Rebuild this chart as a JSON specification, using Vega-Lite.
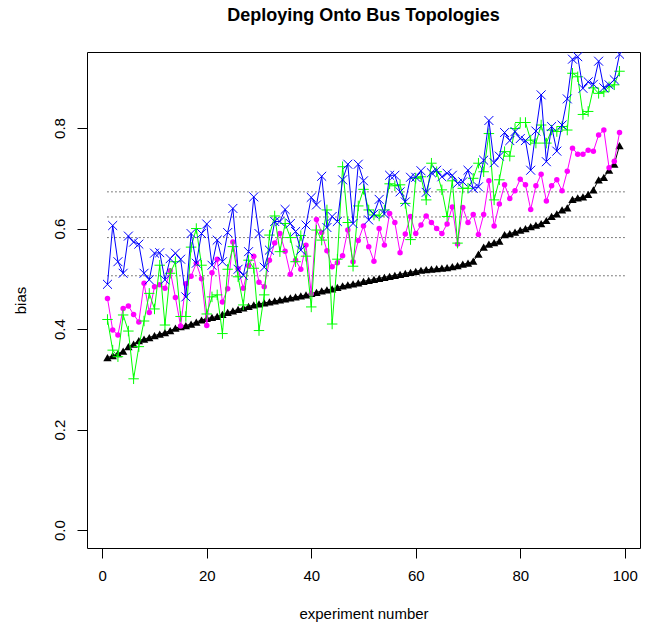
{
  "$schema": "https://vega.github.io/schema/vega-lite/v6.json",
  "autosize": {"type": "none"},
  "padding": {"left": 87, "top": 52, "right": 19, "bottom": 77},
  "width": 553,
  "height": 496,
  "background": "white",
  "title": {"text": "Deploying Onto Bus Topologies", "font": "Liberation Sans", "fontSize": 18, "fontWeight": "bold", "color": "black", "anchor": "middle", "offset": 27},
  "config": {
    "view": {"stroke": "black", "strokeWidth": 1},
    "axis": {"domain": false, "grid": false, "tickColor": "black", "tickSize": 10, "labelFont": "Liberation Sans", "labelFontSize": 15, "labelColor": "black", "titleFont": "Liberation Sans", "titleFontSize": 15, "titleFontWeight": "normal", "titleColor": "black"},
    "axisX": {"labelPadding": 10, "titlePadding": 23},
    "axisY": {"labelAngle": -90, "labelAlign": "center", "labelBaseline": "bottom", "labelPadding": 10, "titlePadding": 24}
  },
  "datasets": {
    "runs": [
      {"i":1,"k":0.343,"m":0.461,"g":0.419,"b":0.489},
      {"i":2,"k":0.347,"m":0.398,"g":0.358,"b":0.606},
      {"i":3,"k":0.351,"m":0.388,"g":0.345,"b":0.534},
      {"i":4,"k":0.356,"m":0.441,"g":0.428,"b":0.511},
      {"i":5,"k":0.365,"m":0.446,"g":0.396,"b":0.585},
      {"i":6,"k":0.370,"m":0.429,"g":0.301,"b":0.573},
      {"i":7,"k":0.377,"m":0.414,"g":0.365,"b":0.569},
      {"i":8,"k":0.380,"m":0.491,"g":0.416,"b":0.511},
      {"i":9,"k":0.383,"m":0.433,"g":0.471,"b":0.498},
      {"i":10,"k":0.387,"m":0.484,"g":0.440,"b":0.551},
      {"i":11,"k":0.390,"m":0.488,"g":0.527,"b":0.552},
      {"i":12,"k":0.393,"m":0.481,"g":0.408,"b":0.498},
      {"i":13,"k":0.397,"m":0.516,"g":0.511,"b":0.540},
      {"i":14,"k":0.402,"m":0.463,"g":0.534,"b":0.551},
      {"i":15,"k":0.405,"m":0.406,"g":0.425,"b":0.539},
      {"i":16,"k":0.407,"m":0.490,"g":0.425,"b":0.464},
      {"i":17,"k":0.410,"m":0.505,"g":0.563,"b":0.590},
      {"i":18,"k":0.414,"m":0.531,"g":0.600,"b":0.531},
      {"i":19,"k":0.418,"m":0.500,"g":0.527,"b":0.590},
      {"i":20,"k":0.421,"m":0.407,"g":0.430,"b":0.609},
      {"i":21,"k":0.423,"m":0.512,"g":0.464,"b":0.527},
      {"i":22,"k":0.425,"m":0.539,"g":0.468,"b":0.577},
      {"i":23,"k":0.429,"m":0.454,"g":0.391,"b":0.534},
      {"i":24,"k":0.433,"m":0.480,"g":0.519,"b":0.592},
      {"i":25,"k":0.436,"m":0.573,"g":0.564,"b":0.640},
      {"i":26,"k":0.439,"m":0.520,"g":0.504,"b":0.519},
      {"i":27,"k":0.442,"m":0.481,"g":0.448,"b":0.507},
      {"i":28,"k":0.445,"m":0.526,"g":0.537,"b":0.554},
      {"i":29,"k":0.448,"m":0.545,"g":0.521,"b":0.663},
      {"i":30,"k":0.450,"m":0.493,"g":0.397,"b":0.590},
      {"i":31,"k":0.452,"m":0.484,"g":0.468,"b":0.523},
      {"i":32,"k":0.454,"m":0.537,"g":0.587,"b":0.557},
      {"i":33,"k":0.456,"m":0.571,"g":0.625,"b":0.614},
      {"i":34,"k":0.458,"m":0.590,"g":0.554,"b":0.614},
      {"i":35,"k":0.460,"m":0.555,"g":0.610,"b":0.638},
      {"i":36,"k":0.462,"m":0.509,"g":0.582,"b":0.610},
      {"i":37,"k":0.464,"m":0.537,"g":0.534,"b":0.594},
      {"i":38,"k":0.466,"m":0.519,"g":0.586,"b":0.557},
      {"i":39,"k":0.468,"m":0.567,"g":0.545,"b":0.607},
      {"i":40,"k":0.471,"m":0.470,"g":0.444,"b":0.662},
      {"i":41,"k":0.473,"m":0.618,"g":0.597,"b":0.647},
      {"i":42,"k":0.476,"m":0.592,"g":0.577,"b":0.704},
      {"i":43,"k":0.478,"m":0.556,"g":0.637,"b":0.602},
      {"i":44,"k":0.480,"m":0.524,"g":0.410,"b":0.624},
      {"i":45,"k":0.483,"m":0.532,"g":0.539,"b":0.614},
      {"i":46,"k":0.486,"m":0.546,"g":0.723,"b":0.697},
      {"i":47,"k":0.488,"m":0.597,"g":0.612,"b":0.728},
      {"i":48,"k":0.490,"m":0.534,"g":0.525,"b":0.610},
      {"i":49,"k":0.492,"m":0.576,"g":0.645,"b":0.728},
      {"i":50,"k":0.495,"m":0.605,"g":0.678,"b":0.695},
      {"i":51,"k":0.497,"m":0.564,"g":0.637,"b":0.617},
      {"i":52,"k":0.499,"m":0.535,"g":0.627,"b":0.629},
      {"i":53,"k":0.501,"m":0.600,"g":0.625,"b":0.658},
      {"i":54,"k":0.503,"m":0.567,"g":0.637,"b":0.629},
      {"i":55,"k":0.505,"m":0.630,"g":0.689,"b":0.706},
      {"i":56,"k":0.507,"m":0.612,"g":0.685,"b":0.706},
      {"i":57,"k":0.509,"m":0.552,"g":0.687,"b":0.673},
      {"i":58,"k":0.511,"m":0.589,"g":0.650,"b":0.653},
      {"i":59,"k":0.513,"m":0.624,"g":0.578,"b":0.702},
      {"i":60,"k":0.515,"m":0.590,"g":0.700,"b":0.702},
      {"i":61,"k":0.517,"m":0.607,"g":0.703,"b":0.715},
      {"i":62,"k":0.518,"m":0.625,"g":0.657,"b":0.672},
      {"i":63,"k":0.519,"m":0.612,"g":0.730,"b":0.711},
      {"i":64,"k":0.520,"m":0.600,"g":0.713,"b":0.716},
      {"i":65,"k":0.521,"m":0.590,"g":0.677,"b":0.703},
      {"i":66,"k":0.522,"m":0.609,"g":0.624,"b":0.710},
      {"i":67,"k":0.524,"m":0.643,"g":0.695,"b":0.706},
      {"i":68,"k":0.526,"m":0.569,"g":0.571,"b":0.690},
      {"i":69,"k":0.529,"m":0.642,"g":0.680,"b":0.693},
      {"i":70,"k":0.531,"m":0.612,"g":0.680,"b":0.716},
      {"i":71,"k":0.535,"m":0.628,"g":0.700,"b":0.680},
      {"i":72,"k":0.549,"m":0.588,"g":0.730,"b":0.683},
      {"i":73,"k":0.563,"m":0.628,"g":0.713,"b":0.736},
      {"i":74,"k":0.569,"m":0.695,"g":0.789,"b":0.815},
      {"i":75,"k":0.572,"m":0.605,"g":0.657,"b":0.731},
      {"i":76,"k":0.575,"m":0.649,"g":0.697,"b":0.744},
      {"i":77,"k":0.588,"m":0.687,"g":0.753,"b":0.791},
      {"i":78,"k":0.590,"m":0.660,"g":0.744,"b":0.775},
      {"i":79,"k":0.593,"m":0.675,"g":0.799,"b":0.793},
      {"i":80,"k":0.597,"m":0.698,"g":0.811,"b":0.779},
      {"i":81,"k":0.600,"m":0.687,"g":0.811,"b":0.775},
      {"i":82,"k":0.604,"m":0.638,"g":0.776,"b":0.716},
      {"i":83,"k":0.607,"m":0.685,"g":0.770,"b":0.794},
      {"i":84,"k":0.610,"m":0.708,"g":0.806,"b":0.866},
      {"i":85,"k":0.616,"m":0.655,"g":0.770,"b":0.733},
      {"i":86,"k":0.624,"m":0.685,"g":0.796,"b":0.803},
      {"i":87,"k":0.629,"m":0.697,"g":0.793,"b":0.754},
      {"i":88,"k":0.637,"m":0.675,"g":0.803,"b":0.806},
      {"i":89,"k":0.641,"m":0.714,"g":0.796,"b":0.858},
      {"i":90,"k":0.658,"m":0.760,"g":0.909,"b":0.937},
      {"i":91,"k":0.661,"m":0.748,"g":0.902,"b":0.942},
      {"i":92,"k":0.663,"m":0.748,"g":0.827,"b":0.879},
      {"i":93,"k":0.668,"m":0.756,"g":0.833,"b":0.892},
      {"i":94,"k":0.677,"m":0.754,"g":0.880,"b":0.887},
      {"i":95,"k":0.697,"m":0.786,"g":0.869,"b":0.933},
      {"i":96,"k":0.702,"m":0.796,"g":0.872,"b":0.880},
      {"i":97,"k":0.716,"m":0.721,"g":0.882,"b":0.886},
      {"i":98,"k":0.728,"m":0.734,"g":0.886,"b":0.896},
      {"i":99,"k":0.765,"m":0.791,"g":0.913,"b":0.947}
    ],
    "refs": [
      {"level": 0.506, "from": 1, "to": 100},
      {"level": 0.582, "from": 1, "to": 100},
      {"level": 0.623, "from": 1, "to": 100},
      {"level": 0.673, "from": 1, "to": 100}
    ]
  },
  "data": {"name": "runs"},
  "encoding": {
    "x": {"field": "i", "type": "quantitative", "scale": {"domain": [-2.92, 102.92], "nice": false, "zero": false}, "axis": {"values": [0, 20, 40, 60, 80, 100], "title": "experiment number"}}
  },
  "layer": [
    {
      "data": {"name": "refs"},
      "mark": {"type": "rule", "color": "black", "strokeWidth": 1, "strokeDash": [1, 3]},
      "encoding": {
        "x": {"field": "from", "type": "quantitative"},
        "x2": {"field": "to"},
        "y": {"field": "level", "type": "quantitative", "scale": {"domain": [-0.0357, 0.9513], "nice": false, "zero": false}, "axis": {"values": [0, 0.2, 0.4, 0.6, 0.8], "format": ".1f", "title": "bias"}}
      }
    },
    {
      "mark": {"type": "line", "color": "black", "strokeWidth": 1, "clip": true},
      "encoding": {"y": {"field": "k", "type": "quantitative", "title": "bias"}}
    },
    {
      "mark": {"type": "point", "shape": "triangle-up", "filled": true, "color": "black", "size": 70, "opacity": 1, "clip": true},
      "encoding": {"y": {"field": "k", "type": "quantitative", "title": "bias"}}
    },
    {
      "mark": {"type": "line", "color": "#ff00ff", "strokeWidth": 1, "clip": true},
      "encoding": {"y": {"field": "m", "type": "quantitative", "title": "bias"}}
    },
    {
      "mark": {"type": "point", "shape": "circle", "filled": true, "color": "#ff00ff", "size": 30, "opacity": 1, "clip": true},
      "encoding": {"y": {"field": "m", "type": "quantitative", "title": "bias"}}
    },
    {
      "mark": {"type": "line", "color": "#00ff00", "strokeWidth": 1, "clip": true},
      "encoding": {"y": {"field": "g", "type": "quantitative", "title": "bias"}}
    },
    {
      "mark": {"type": "point", "shape": "M-1,0L1,0M0,-1L0,1", "filled": false, "color": "#00ff00", "size": 110, "strokeWidth": 1, "opacity": 1, "clip": true},
      "encoding": {"y": {"field": "g", "type": "quantitative", "title": "bias"}}
    },
    {
      "mark": {"type": "line", "color": "#0000ff", "strokeWidth": 1, "clip": true},
      "encoding": {"y": {"field": "b", "type": "quantitative", "title": "bias"}}
    },
    {
      "mark": {"type": "point", "shape": "M-1,-1L1,1M-1,1L1,-1", "filled": false, "color": "#0000ff", "size": 80, "strokeWidth": 1, "opacity": 1, "clip": true},
      "encoding": {"y": {"field": "b", "type": "quantitative", "title": "bias"}}
    }
  ]
}
